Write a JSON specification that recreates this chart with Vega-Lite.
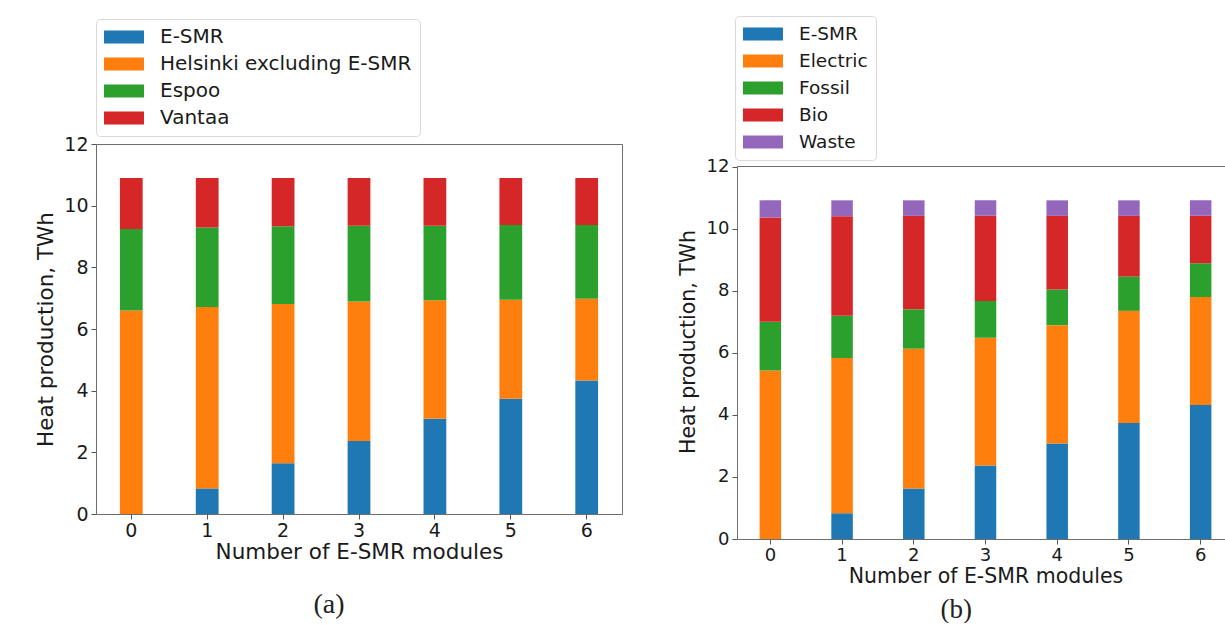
{
  "$schema": "https://vega.github.io/schema/vega-lite/v6.json",
  "background": "white",
  "padding": {"left": 35, "top": 15, "right": 0, "bottom": 0},
  "spacing": 55,
  "datasets": {
    "cities": [
      {"modules": 0, "source": "E-SMR", "k": 1, "TWh": 0},
      {"modules": 0, "source": "Helsinki excluding E-SMR", "k": 2, "TWh": 6.60},
      {"modules": 0, "source": "Espoo", "k": 3, "TWh": 2.64},
      {"modules": 0, "source": "Vantaa", "k": 4, "TWh": 1.66},
      {"modules": 1, "source": "E-SMR", "k": 1, "TWh": 0.83},
      {"modules": 1, "source": "Helsinki excluding E-SMR", "k": 2, "TWh": 5.88},
      {"modules": 1, "source": "Espoo", "k": 3, "TWh": 2.58},
      {"modules": 1, "source": "Vantaa", "k": 4, "TWh": 1.61},
      {"modules": 2, "source": "E-SMR", "k": 1, "TWh": 1.65},
      {"modules": 2, "source": "Helsinki excluding E-SMR", "k": 2, "TWh": 5.16},
      {"modules": 2, "source": "Espoo", "k": 3, "TWh": 2.52},
      {"modules": 2, "source": "Vantaa", "k": 4, "TWh": 1.57},
      {"modules": 3, "source": "E-SMR", "k": 1, "TWh": 2.37},
      {"modules": 3, "source": "Helsinki excluding E-SMR", "k": 2, "TWh": 4.52},
      {"modules": 3, "source": "Espoo", "k": 3, "TWh": 2.46},
      {"modules": 3, "source": "Vantaa", "k": 4, "TWh": 1.55},
      {"modules": 4, "source": "E-SMR", "k": 1, "TWh": 3.09},
      {"modules": 4, "source": "Helsinki excluding E-SMR", "k": 2, "TWh": 3.84},
      {"modules": 4, "source": "Espoo", "k": 3, "TWh": 2.42},
      {"modules": 4, "source": "Vantaa", "k": 4, "TWh": 1.55},
      {"modules": 5, "source": "E-SMR", "k": 1, "TWh": 3.74},
      {"modules": 5, "source": "Helsinki excluding E-SMR", "k": 2, "TWh": 3.21},
      {"modules": 5, "source": "Espoo", "k": 3, "TWh": 2.42},
      {"modules": 5, "source": "Vantaa", "k": 4, "TWh": 1.53},
      {"modules": 6, "source": "E-SMR", "k": 1, "TWh": 4.33},
      {"modules": 6, "source": "Helsinki excluding E-SMR", "k": 2, "TWh": 2.65},
      {"modules": 6, "source": "Espoo", "k": 3, "TWh": 2.39},
      {"modules": 6, "source": "Vantaa", "k": 4, "TWh": 1.53}
    ],
    "fuels": [
      {"modules": 0, "source": "E-SMR", "k": 1, "TWh": 0},
      {"modules": 0, "source": "Electric", "k": 2, "TWh": 5.43},
      {"modules": 0, "source": "Fossil", "k": 3, "TWh": 1.57},
      {"modules": 0, "source": "Bio", "k": 4, "TWh": 3.36},
      {"modules": 0, "source": "Waste", "k": 5, "TWh": 0.55},
      {"modules": 1, "source": "E-SMR", "k": 1, "TWh": 0.83},
      {"modules": 1, "source": "Electric", "k": 2, "TWh": 5.00},
      {"modules": 1, "source": "Fossil", "k": 3, "TWh": 1.36},
      {"modules": 1, "source": "Bio", "k": 4, "TWh": 3.21},
      {"modules": 1, "source": "Waste", "k": 5, "TWh": 0.51},
      {"modules": 2, "source": "E-SMR", "k": 1, "TWh": 1.63},
      {"modules": 2, "source": "Electric", "k": 2, "TWh": 4.50},
      {"modules": 2, "source": "Fossil", "k": 3, "TWh": 1.27},
      {"modules": 2, "source": "Bio", "k": 4, "TWh": 3.01},
      {"modules": 2, "source": "Waste", "k": 5, "TWh": 0.50},
      {"modules": 3, "source": "E-SMR", "k": 1, "TWh": 2.37},
      {"modules": 3, "source": "Electric", "k": 2, "TWh": 4.11},
      {"modules": 3, "source": "Fossil", "k": 3, "TWh": 1.19},
      {"modules": 3, "source": "Bio", "k": 4, "TWh": 2.74},
      {"modules": 3, "source": "Waste", "k": 5, "TWh": 0.50},
      {"modules": 4, "source": "E-SMR", "k": 1, "TWh": 3.08},
      {"modules": 4, "source": "Electric", "k": 2, "TWh": 3.81},
      {"modules": 4, "source": "Fossil", "k": 3, "TWh": 1.15},
      {"modules": 4, "source": "Bio", "k": 4, "TWh": 2.37},
      {"modules": 4, "source": "Waste", "k": 5, "TWh": 0.50},
      {"modules": 5, "source": "E-SMR", "k": 1, "TWh": 3.74},
      {"modules": 5, "source": "Electric", "k": 2, "TWh": 3.61},
      {"modules": 5, "source": "Fossil", "k": 3, "TWh": 1.11},
      {"modules": 5, "source": "Bio", "k": 4, "TWh": 1.95},
      {"modules": 5, "source": "Waste", "k": 5, "TWh": 0.50},
      {"modules": 6, "source": "E-SMR", "k": 1, "TWh": 4.32},
      {"modules": 6, "source": "Electric", "k": 2, "TWh": 3.48},
      {"modules": 6, "source": "Fossil", "k": 3, "TWh": 1.08},
      {"modules": 6, "source": "Bio", "k": 4, "TWh": 1.53},
      {"modules": 6, "source": "Waste", "k": 5, "TWh": 0.50}
    ]
  },
  "config": {
    "font": "DejaVu Sans",
    "view": {"stroke": "#6e6e6e", "strokeWidth": 1},
    "axis": {
      "domain": false,
      "grid": false,
      "tickColor": "#555555",
      "tickSize": 5,
      "labelColor": "#1a1a1a",
      "titleColor": "#1a1a1a",
      "titleFontWeight": "normal",
      "labelFont": "DejaVu Sans",
      "titleFont": "DejaVu Sans"
    },
    "legend": {
      "orient": "none",
      "direction": "vertical",
      "symbolType": "M-2,-0.65H2V0.65H-2Z",
      "symbolSize": 400,
      "symbolOffset": 10,
      "symbolStrokeWidth": 0,
      "symbolOpacity": 1,
      "labelColor": "#1a1a1a",
      "labelFont": "DejaVu Sans",
      "labelLimit": 0,
      "strokeColor": "#d9d9d9",
      "fillColor": "white",
      "padding": 8,
      "cornerRadius": 4,
      "rowPadding": 7,
      "labelOffset": 26
    },
    "title": {"font": "Liberation Serif", "fontWeight": "normal", "color": "#222222", "orient": "bottom", "frame": "bounds", "anchor": "middle"}
  },
  "hconcat": [
    {
      "width": 526,
      "height": 370,
      "data": {"name": "cities"},
      "title": {"text": "(a)", "fontSize": 28, "offset": 28},
      "mark": {"type": "bar"},
      "encoding": {
        "x": {
          "field": "modules", "type": "ordinal",
          "scale": {"paddingInner": 0.7, "paddingOuter": 0.315},
          "axis": {"title": "Number of E-SMR modules", "labelAngle": 0, "labelFontSize": 19, "titleFontSize": 21.5, "labelPadding": 2, "titlePadding": 1}
        },
        "y": {
          "field": "TWh", "type": "quantitative", "stack": "zero",
          "scale": {"domain": [0, 12], "nice": false},
          "axis": {"title": "Heat production, TWh", "values": [0, 2, 4, 6, 8, 10, 12], "labelFontSize": 19, "titleFontSize": 21.5, "labelPadding": 3, "titlePadding": 6}
        },
        "color": {
          "field": "source", "type": "nominal",
          "scale": {"domain": ["E-SMR", "Helsinki excluding E-SMR", "Espoo", "Vantaa"], "range": ["#1f77b4", "#ff7f0e", "#2ca02c", "#d62728"]},
          "legend": {"title": null, "legendX": 0, "legendY": -125, "labelFontSize": 20}
        },
        "order": {"field": "k", "type": "quantitative"}
      }
    },
    {
      "width": 497,
      "height": 395,
      "view": {"stroke": null},
      "title": {"text": "(b)", "fontSize": 27, "offset": 10},
      "layer": [
        {
          "data": {"name": "fuels"},
          "mark": {"type": "bar"},
          "encoding": {
            "x": {
              "field": "modules", "type": "ordinal",
              "scale": {"paddingInner": 0.7, "paddingOuter": 0.315},
              "axis": {"title": "Number of E-SMR modules", "labelAngle": 0, "labelFontSize": 18, "titleFontSize": 20.5, "labelPadding": 2, "titlePadding": 2, "domain": true, "domainColor": "#6e6e6e", "domainWidth": 1}
            },
            "y": {
              "field": "TWh", "type": "quantitative", "stack": "zero",
              "scale": {"domain": [0, 12.725], "nice": false},
              "axis": {"title": "Heat production, TWh", "values": [0, 2, 4, 6, 8, 10, 12], "labelFontSize": 18, "titleFontSize": 20.5, "labelPadding": 3, "titlePadding": 8, "domain": true, "domainColor": "#6e6e6e", "domainWidth": 1, "domainDash": [372.5, 200]}
            },
            "color": {
              "field": "source", "type": "nominal",
              "scale": {"domain": ["E-SMR", "Electric", "Fossil", "Bio", "Waste"], "range": ["#1f77b4", "#ff7f0e", "#2ca02c", "#d62728", "#9467bd"]},
              "legend": {"title": null, "legendX": -2, "legendY": -128, "labelFontSize": 18.5}
            },
            "order": {"field": "k", "type": "quantitative"}
          }
        },
        {
          "data": {"values": [{"edge": 12}]},
          "mark": {"type": "rule", "color": "#6e6e6e", "strokeWidth": 1},
          "encoding": {"y": {"field": "edge", "type": "quantitative"}}
        }
      ]
    }
  ],
  "resolve": {"scale": {"color": "independent", "x": "independent", "y": "independent"}, "legend": {"color": "independent"}}
}
